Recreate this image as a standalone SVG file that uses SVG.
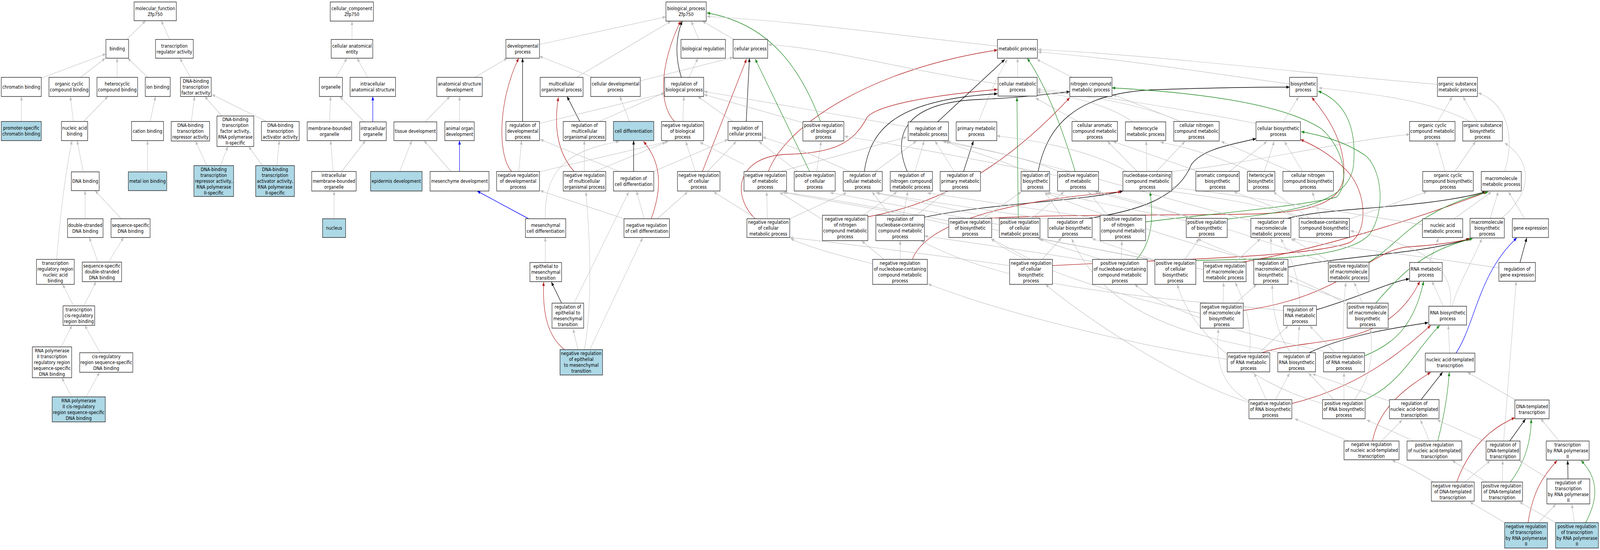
<svg xmlns="http://www.w3.org/2000/svg" width="5000" height="1408" viewBox="0 0 5000 1408" preserveAspectRatio="none">
<defs>
<style>
svg:root{width:100vw;height:100vh}
.n rect{fill:#fff;stroke:#222;stroke-width:1.4}
.n.hl rect{fill:#add8e6}
.n text{font-family:"DejaVu Sans",Verdana,sans-serif;font-size:13px;text-anchor:middle;fill:#000}
#edges path{fill:none}
.e{stroke:#c0c0c0;stroke-width:1.2;marker-end:url(#ag)}
.k{stroke:#000;stroke-width:1.4;marker-end:url(#ak)}
.r{stroke:#b22222;stroke-width:1.4;marker-end:url(#ar)}
.g{stroke:#228b22;stroke-width:1.4;marker-end:url(#agr)}
.b{stroke:#0000ff;stroke-width:1.4;marker-end:url(#ab)}
</style>
<marker id="ag" viewBox="0 0 10 8" refX="10" refY="4" markerWidth="11" markerHeight="8" markerUnits="userSpaceOnUse" orient="auto"><path d="M0,0L10,4L0,8z" fill="#c0c0c0"/></marker>
<marker id="ak" viewBox="0 0 10 8" refX="10" refY="4" markerWidth="11" markerHeight="8" markerUnits="userSpaceOnUse" orient="auto"><path d="M0,0L10,4L0,8z" fill="#000"/></marker>
<marker id="ar" viewBox="0 0 10 8" refX="10" refY="4" markerWidth="11" markerHeight="8" markerUnits="userSpaceOnUse" orient="auto"><path d="M0,0L10,4L0,8z" fill="#b22222"/></marker>
<marker id="agr" viewBox="0 0 10 8" refX="10" refY="4" markerWidth="11" markerHeight="8" markerUnits="userSpaceOnUse" orient="auto"><path d="M0,0L10,4L0,8z" fill="#228b22"/></marker>
<marker id="ab" viewBox="0 0 10 8" refX="10" refY="4" markerWidth="11" markerHeight="8" markerUnits="userSpaceOnUse" orient="auto"><path d="M0,0L10,4L0,8z" fill="#0000ff"/></marker>
</defs>
<rect x="0" y="0" width="5000" height="1408" fill="#fff"/>
<g id="edges">
<path class="e" d="M396,101L455,53"/>
<path class="e" d="M530,101L504,53"/>
<path class="e" d="M129,200L331,138"/>
<path class="e" d="M252,198L329,149"/>
<path class="e" d="M366,198L366,149"/>
<path class="e" d="M462,198L399,149"/>
<path class="e" d="M595,198L562,149"/>
<path class="e" d="M67,311L67,247"/>
<path class="e" d="M229,311L220,247"/>
<path class="e" d="M261,311L337,247"/>
<path class="e" d="M469,311L486,247"/>
<path class="e" d="M598,311L608,247"/>
<path class="e" d="M693,297L640,247"/>
<path class="e" d="M833,311L662,242"/>
<path class="e" d="M646,424L611,361"/>
<path class="e" d="M689,424L712,375"/>
<path class="e" d="M820,424L777,375"/>
<path class="e" d="M865,425L873,360"/>
<path class="e" d="M260,440L241,360"/>
<path class="e" d="M461,440L461,360"/>
<path class="e" d="M266,560L266,488"/>
<path class="e" d="M379,560L297,488"/>
<path class="e" d="M177,664Q195,480 225,360"/>
<path class="e" d="M306,671L279,608"/>
<path class="e" d="M339,671L386,608"/>
<path class="e" d="M230,783L196,728"/>
<path class="e" d="M262,783L300,721"/>
<path class="e" d="M191,888L225,833"/>
<path class="e" d="M313,903L265,833"/>
<path class="e" d="M224,1016L193,967"/>
<path class="e" d="M269,1016L311,953"/>
<path class="e" d="M1100,101L1100,54"/>
<path class="e" d="M1050,198L1084,149"/>
<path class="e" d="M1149,198L1116,149"/>
<path class="e" d="M1030,312L1033,247"/>
<path class="e" d="M1138,312L1062,247"/>
<path class="b" d="M1165,312L1165,247"/>
<path class="e" d="M1041,439L1033,360"/>
<path class="e" d="M1068,439L1142,360"/>
<path class="e" d="M1044,560L1044,489"/>
<path class="e" d="M1484,198L1585,149"/>
<path class="e" d="M1328,312L1406,247"/>
<path class="e" d="M1436,312L1436,247"/>
<path class="e" d="M1249,439L1287,360"/>
<path class="e" d="M1409,439L1325,360"/>
<path class="b" d="M1436,439L1436,360"/>
<path class="b" d="M1652,560L1491,489"/>
<path class="k" d="M1633,311L1633,149"/>
<path class="r" d="M1599,439C1555,400 1555,260 1621,149"/>
<path class="e" d="M1621,439L1630,360"/>
<path class="e" d="M1704,672L1704,608"/>
<path class="e" d="M1685,114L2081,43"/>
<path class="e" d="M1802,198L2097,54"/>
<path class="e" d="M1853,198L1686,144"/>
<path class="e" d="M2001,207L2291,147"/>
<path class="e" d="M2184,101L2160,54"/>
<path class="e" d="M2293,101L2195,54"/>
<path class="k" d="M2129,198Q2100,120 2132,54"/>
<path class="e" d="M2153,198L2181,149"/>
<path class="k" d="M1812,311L1772,247"/>
<path class="e" d="M1872,311L2077,237"/>
<path class="e" d="M1967,311L1937,247"/>
<path class="r" d="M2108,311C2050,260 2070,150 2127,54"/>
<path class="e" d="M2134,311L2137,247"/>
<path class="k" d="M2332,311L2342,149"/>
<path class="e" d="M2290,311L2181,247"/>
<path class="e" d="M1686,316L2077,239"/>
<path class="g" d="M2564,311C2500,170 2400,60 2209,33"/>
<path class="e" d="M2509,314L2200,242"/>
<path class="e" d="M2838,325L2200,234"/>
<path class="e" d="M1680,441L2089,362"/>
<path class="r" d="M1794,439C1730,380 1735,300 1745,249"/>
<path class="e" d="M1826,439L1826,360"/>
<path class="e" d="M1859,439L2081,364"/>
<path class="k" d="M1980,439L1980,360"/>
<path class="e" d="M1704,560C1700,430 1780,385 1935,362"/>
<path class="e" d="M2043,439L2275,357"/>
<path class="e" d="M1935,439L1688,357"/>
<path class="r" d="M2035,560C2075,470 2060,410 2011,362"/>
<path class="e" d="M2013,560L1989,489"/>
<path class="e" d="M2054,560L2149,491"/>
<path class="e" d="M1950,560L1688,488"/>
<path class="k" d="M1755,776L1723,722"/>
<path class="e" d="M1794,776L1965,491"/>
<path class="r" d="M1764,895C1710,860 1695,800 1699,722"/>
<path class="e" d="M1806,895L1791,842"/>
<path class="e" d="M1843,895L2008,609"/>
<path class="e" d="M1826,895C1848,800 1848,650 1831,491"/>
<path class="r" d="M2195,439L2333,151"/>
<path class="e" d="M2173,439L2143,362"/>
<path class="e" d="M2211,439L2301,362"/>
<path class="e" d="M2325,421L2187,364"/>
<path class="r" d="M2401,439C2450,330 2700,180 3117,128"/>
<path class="e" d="M2439,439L2833,351"/>
<path class="g" d="M2530,439L2360,151"/>
<path class="e" d="M2493,439L2371,362"/>
<path class="e" d="M2552,439L2566,362"/>
<path class="r" d="M2360,560C2285,500 2300,400 2460,395C2600,392 2665,370 2710,300C2740,270 2900,245 3117,229"/>
<path class="e" d="M2398,560L2396,491"/>
<path class="e" d="M2360,558L2230,491"/>
<path class="e" d="M2468,560L2646,493"/>
<path class="k" d="M2930,312L3140,152"/>
<path class="e" d="M3058,312Q3100,220 3148,152"/>
<path class="k" d="M2701,439C2720,330 2800,255 3117,240"/>
<path class="e" d="M2735,439L2864,361"/>
<path class="e" d="M2655,439Q2500,380 2383,351"/>
<path class="k" d="M2835,439C2790,350 2820,265 3050,255C3200,250 3280,240 3343,235"/>
<path class="e" d="M2859,439L2888,361"/>
<path class="k" d="M3011,439L3042,361"/>
<path class="e" d="M2982,439L2922,361"/>
<path class="e" d="M3309,439C3200,400 3050,380 2946,362"/>
<path class="e" d="M3305,450C3000,400 2800,370 2639,349"/>
<path class="r" d="M2712,555C2950,520 3150,420 3343,250"/>
<path class="e" d="M2697,551L2803,491"/>
<path class="e" d="M2570,562L2436,492"/>
<path class="k" d="M2889,556C3100,520 3380,515 3509,489"/>
<path class="e" d="M2823,551L2837,490"/>
<path class="e" d="M2781,551L2725,491"/>
<path class="e" d="M2864,551L2956,491"/>
<path class="r" d="M3085,559C3300,548 3700,552 3900,548C4100,545 4200,520 4200,440C4200,360 4150,300 4099,249"/>
<path class="e" d="M3072,559L3192,491"/>
<path class="e" d="M2965,575C2800,540 2550,510 2445,492"/>
<path class="g" d="M3182,559L3178,249"/>
<path class="e" d="M3224,559L3325,491"/>
<path class="e" d="M3123,561L2739,494"/>
<path class="e" d="M3123,575C2900,540 2700,510 2594,493"/>
<path class="r" d="M2851,664C2900,560 3200,510 3504,491"/>
<path class="e" d="M2813,664L2813,616"/>
<path class="e" d="M2763,664L2693,617"/>
<path class="e" d="M2727,675C2600,650 2520,630 2471,611"/>
<path class="e" d="M3835,920C3600,890 3200,820 2900,727"/>
<path class="e" d="M3180,198L3180,149"/>
<path class="e" d="M3351,198L3240,152"/>
<path class="e" d="M3369,311L3236,251"/>
<path class="e" d="M3540,312C3450,260 3300,240 3241,236"/>
<path class="e" d="M3692,312C3550,260 3350,240 3241,232"/>
<path class="e" d="M3680,308L3478,242"/>
<path class="e" d="M3925,316C3700,280 3400,240 3241,228"/>
<path class="k" d="M3244,439C3270,330 3350,240 3600,230C3800,224 3950,223 4030,223"/>
<path class="e" d="M3210,439C3100,400 3000,380 2955,362"/>
<path class="g" d="M3360,439C3320,330 3270,220 3210,149"/>
<path class="e" d="M3554,439L3461,362"/>
<path class="e" d="M3584,439L3582,361"/>
<path class="e" d="M3614,439L3703,362"/>
<path class="e" d="M3662,439C3900,420 4200,360 4405,344"/>
<path class="e" d="M3520,438C3400,380 3200,355 3115,348"/>
<path class="e" d="M3842,439L3959,362"/>
<path class="e" d="M3745,439L3478,362"/>
<path class="k" d="M3403,559C3550,540 3680,510 3723,421C3760,380 3850,370 3925,355"/>
<path class="e" d="M3321,559L3265,491"/>
<path class="e" d="M3277,561C3100,540 2850,510 2737,493"/>
<path class="g" d="M3581,568C3750,550 4050,530 4176,505C4220,470 4200,380 4130,330C4000,260 3700,235 3475,225"/>
<path class="e" d="M3461,551L3401,491"/>
<path class="e" d="M3438,560C3200,530 3000,505 2898,494"/>
<path class="g" d="M3835,561C4050,540 4220,520 4230,420C4240,320 4200,260 4119,233"/>
<path class="e" d="M3707,565C3500,530 3330,500 3273,493"/>
<path class="e" d="M3730,559L3421,491"/>
<path class="r" d="M3289,680C3600,665 4100,660 4220,620C4280,590 4270,480 4200,430C4150,390 4100,370 4064,357"/>
<path class="e" d="M3257,664L3317,609"/>
<path class="e" d="M3220,664L3097,611"/>
<path class="e" d="M3155,680C2900,650 2600,620 2468,608"/>
<path class="g" d="M3552,664C3600,620 3605,560 3594,491"/>
<path class="e" d="M3504,664L3506,617"/>
<path class="e" d="M3420,670C3200,640 2980,615 2889,604"/>
<path class="e" d="M3440,664C3350,640 3280,625 3250,611"/>
<path class="g" d="M3737,667C3900,662 4200,670 4280,600C4330,540 4320,440 4270,400C4200,360 4120,345 4066,337"/>
<path class="e" d="M3609,666L3413,611"/>
<path class="e" d="M3703,664L3747,611"/>
<path class="e" d="M3620,668C3450,640 3300,620 3244,611"/>
<path class="e" d="M4030,215C3800,190 3500,150 3244,133"/>
<path class="e" d="M4492,216C4100,190 3600,140 3244,127"/>
<path class="e" d="M4010,312L4058,248"/>
<path class="e" d="M4593,311C4480,260 4300,240 4121,225"/>
<path class="e" d="M3951,439L3982,362"/>
<path class="e" d="M3911,439C3800,400 3700,375 3626,364"/>
<path class="e" d="M4070,439L4014,362"/>
<path class="e" d="M4034,439L3816,362"/>
<path class="k" d="M4024,559C4150,530 4450,535 4643,491"/>
<path class="e" d="M3909,565C3600,500 3200,400 2960,362"/>
<path class="e" d="M4127,559L4101,491"/>
<path class="e" d="M4093,559L3979,491"/>
<path class="e" d="M4073,559L3856,491"/>
<path class="e" d="M4217,561L4459,491"/>
<path class="e" d="M4065,560C3950,520 3750,500 3650,489"/>
<path class="k" d="M4026,684C4200,655 4450,650 4592,611"/>
<path class="e" d="M3972,664L3972,609"/>
<path class="e" d="M3918,668C3700,620 3400,540 3269,493"/>
<path class="r" d="M3884,671C4100,640 4400,570 4647,491"/>
<path class="e" d="M3860,671L3939,611"/>
<path class="e" d="M3761,690C3300,620 2700,520 2450,492"/>
<path class="g" d="M4278,671C4380,620 4420,540 4651,491"/>
<path class="e" d="M4160,671L4034,611"/>
<path class="e" d="M4151,675C3900,600 3550,510 3430,491"/>
<path class="e" d="M4493,311L4538,248"/>
<path class="e" d="M4616,311L4572,248"/>
<path class="e" d="M4516,439L4489,362"/>
<path class="e" d="M4546,439L4611,362"/>
<path class="e" d="M4702,439C4740,340 4700,260 4619,238"/>
<path class="e" d="M4544,560L4661,491"/>
<path class="e" d="M4657,559L4682,491"/>
<path class="e" d="M4764,559L4714,491"/>
<path class="e" d="M4692,559C4780,500 4800,420 4702,366"/>
<path class="e" d="M4445,575C4200,545 3900,500 3662,480"/>
<path class="e" d="M4467,672L4495,610"/>
<path class="k" d="M4750,672L4771,609"/>
<path class="e" d="M4684,686C4400,650 4150,630 4038,611"/>
<path class="e" d="M4510,784L4475,720"/>
<path class="e" d="M4538,784C4550,740 4600,670 4631,611"/>
<path class="e" d="M4532,784C4545,700 4480,630 4220,591"/>
<path class="e" d="M4530,904L4526,833"/>
<path class="b" d="M4550,904C4610,830 4620,700 4740,609"/>
<path class="e" d="M4736,1024L4586,953"/>
<path class="e" d="M4872,1129L4815,1072"/>
<path class="k" d="M4114,793C4250,760 4350,720 4404,714"/>
<path class="r" d="M3943,903C4100,860 4330,900 4437,720"/>
<path class="g" d="M4264,911C4360,880 4420,830 4449,720"/>
<path class="k" d="M4091,903C4200,860 4350,840 4463,826"/>
<path class="r" d="M4037,1033C4250,990 4380,900 4471,833"/>
<path class="g" d="M4266,1023C4380,980 4420,900 4499,833"/>
<path class="k" d="M4441,1023L4508,953"/>
<path class="e" d="M4342,1027L4101,957"/>
<path class="r" d="M4289,1129C4310,1040 4400,990 4471,953"/>
<path class="e" d="M4317,1129L4382,1075"/>
<path class="e" d="M4214,1129L4046,1072"/>
<path class="g" d="M4493,1129C4515,1060 4525,1000 4529,953"/>
<path class="e" d="M4467,1129L4439,1075"/>
<path class="e" d="M4418,1129L4271,1075"/>
<path class="k" d="M4718,1129L4767,1073"/>
<path class="e" d="M4644,1131L4491,1075"/>
<path class="e" d="M4699,1129L4738,720"/>
<path class="r" d="M4552,1234C4590,1150 4650,1100 4734,1069"/>
<path class="e" d="M4578,1234L4657,1179"/>
<path class="e" d="M4481,1234C4430,1210 4390,1190 4350,1179"/>
<path class="g" d="M4720,1234C4770,1180 4785,1120 4785,1073"/>
<path class="e" d="M4695,1234L4696,1179"/>
<path class="e" d="M4645,1234L4538,1179"/>
<path class="k" d="M4900,1226L4899,1179"/>
<path class="e" d="M4839,1226L4748,1179"/>
<path class="r" d="M4775,1338C4790,1260 4820,1220 4866,1179"/>
<path class="e" d="M4807,1338L4862,1291"/>
<path class="e" d="M4702,1338L4593,1285"/>
<path class="g" d="M4955,1338C5000,1270 4990,1220 4941,1179"/>
<path class="e" d="M4920,1338L4912,1291"/>
<path class="e" d="M4862,1338L4748,1285"/>
<path class="e" d="M4062,783C4060,720 4040,660 4002,611"/>
<path class="e" d="M4011,795C3600,760 3150,740 2878,616"/>
<path class="e" d="M3822,776L3824,723"/>
<path class="e" d="M3862,776L3927,728"/>
<path class="r" d="M3885,795C4200,760 4280,640 4400,632C4480,628 4550,620 4597,611"/>
<path class="e" d="M3751,802C3500,760 3200,680 3097,611"/>
<path class="e" d="M4257,776L4232,723"/>
<path class="e" d="M4220,775L4028,718"/>
<path class="g" d="M4299,776C4380,700 4450,640 4602,611"/>
<path class="e" d="M4210,780C4050,700 3800,640 3743,611"/>
<path class="e" d="M3935,903L4026,834"/>
<path class="e" d="M3905,903C3912,850 3900,790 3860,723"/>
<path class="e" d="M4172,903L4093,834"/>
<path class="e" d="M4198,903C4196,830 4200,760 4206,723"/>
<path class="e" d="M4160,903C3900,860 3650,800 3546,728"/>
<path class="e" d="M4056,903L4060,834"/>
<path class="e" d="M4034,903C3985,850 3975,780 3976,729"/>
<path class="e" d="M4014,904C3700,860 3450,800 3349,611"/>
<path class="e" d="M3957,1023L3919,955"/>
<path class="e" d="M3986,1023L4030,955"/>
<path class="e" d="M3903,1027C3800,980 3800,900 3808,842"/>
<path class="e" d="M3903,1030C3700,980 3400,820 3267,728"/>
<path class="e" d="M4200,1023L4200,954"/>
<path class="e" d="M4168,1023L4089,955"/>
<path class="e" d="M4232,1023C4290,960 4290,900 4283,842"/>
<path class="e" d="M4133,1033C3900,980 3720,850 3679,728"/>
<path class="e" d="M3119,215C2800,175 2600,125 2401,114"/>
<path class="e" d="M3117,118C2800,90 2500,55 2209,42"/>
</g>
<g id="n_mf" class="n"><rect x="419" y="5" width="132" height="48"/><text><tspan x="485" y="26">molecular_function</tspan><tspan x="485" y="41">Zfp750</tspan></text></g>
<g id="n_bind" class="n"><rect x="331" y="101" width="71" height="48"/><text><tspan x="366.5" y="129.5">binding</tspan></text></g>
<g id="n_tra" class="n"><rect x="486" y="101" width="118" height="48"/><text><tspan x="545" y="122">transcription</tspan><tspan x="545" y="137">regulator activity</tspan></text></g>
<g id="n_chrom" class="n"><rect x="4" y="198" width="125" height="49"/><text><tspan x="66.5" y="227">chromatin binding</tspan></text></g>
<g id="n_occb" class="n"><rect x="153" y="198" width="126" height="49"/><text><tspan x="216" y="219.5">organic cyclic</tspan><tspan x="216" y="234.5">compound binding</tspan></text></g>
<g id="n_hcb" class="n"><rect x="303" y="198" width="127" height="49"/><text><tspan x="366.5" y="219.5">heterocyclic</tspan><tspan x="366.5" y="234.5">compound binding</tspan></text></g>
<g id="n_ionb" class="n"><rect x="454" y="198" width="78" height="49"/><text><tspan x="493" y="227">ion binding</tspan></text></g>
<g id="n_dbtfa" class="n"><rect x="564" y="198" width="96" height="49"/><text><tspan x="612" y="212">DNA-binding</tspan><tspan x="612" y="227">transcription</tspan><tspan x="612" y="242">factor activity</tspan></text></g>
<g id="n_pscb" class="n hl"><rect x="4" y="311" width="125" height="49"/><text><tspan x="66.5" y="332.5">promoter-specific</tspan><tspan x="66.5" y="347.5">chromatin binding</tspan></text></g>
<g id="n_nab" class="n"><rect x="192" y="311" width="82" height="49"/><text><tspan x="233" y="332.5">nucleic acid</tspan><tspan x="233" y="347.5">binding</tspan></text></g>
<g id="n_catb" class="n"><rect x="411" y="311" width="100" height="49"/><text><tspan x="461" y="340">cation binding</tspan></text></g>
<g id="n_rep" class="n"><rect x="535" y="311" width="120" height="50"/><text><tspan x="595" y="325.5">DNA-binding</tspan><tspan x="595" y="340.5">transcription</tspan><tspan x="595" y="355.5">repressor activity</tspan></text></g>
<g id="n_tf2" class="n"><rect x="678" y="297" width="115" height="78"/><text><tspan x="735.5" y="310.5">DNA-binding</tspan><tspan x="735.5" y="325.5">transcription</tspan><tspan x="735.5" y="340.5">factor activity,</tspan><tspan x="735.5" y="355.5">RNA polymerase</tspan><tspan x="735.5" y="370.5">II-specific</tspan></text></g>
<g id="n_act" class="n"><rect x="817" y="311" width="118" height="49"/><text><tspan x="876" y="325">DNA-binding</tspan><tspan x="876" y="340">transcription</tspan><tspan x="876" y="355">activator activity</tspan></text></g>
<g id="n_rep2" class="n hl"><rect x="606" y="424" width="124" height="79"/><text><tspan x="668" y="438">DNA-binding</tspan><tspan x="668" y="453">transcription</tspan><tspan x="668" y="468">repressor activity,</tspan><tspan x="668" y="483">RNA polymerase</tspan><tspan x="668" y="498">II-specific</tspan></text></g>
<g id="n_act2" class="n hl"><rect x="799" y="424" width="121" height="79"/><text><tspan x="859.5" y="438">DNA-binding</tspan><tspan x="859.5" y="453">transcription</tspan><tspan x="859.5" y="468">activator activity,</tspan><tspan x="859.5" y="483">RNA polymerase</tspan><tspan x="859.5" y="498">II-specific</tspan></text></g>
<g id="n_dnab" class="n"><rect x="223" y="440" width="87" height="48"/><text><tspan x="266.5" y="468.5">DNA binding</tspan></text></g>
<g id="n_metb" class="n hl"><rect x="401" y="440" width="120" height="48"/><text><tspan x="461" y="468.5">metal ion binding</tspan></text></g>
<g id="n_dsdna" class="n"><rect x="211" y="560" width="111" height="48"/><text><tspan x="266.5" y="581">double-stranded</tspan><tspan x="266.5" y="596">DNA binding</tspan></text></g>
<g id="n_ssdna" class="n"><rect x="347" y="560" width="122" height="48"/><text><tspan x="408" y="581">sequence-specific</tspan><tspan x="408" y="596">DNA binding</tspan></text></g>
<g id="n_trrnab" class="n"><rect x="114" y="664" width="118" height="64"/><text><tspan x="173" y="678">transcription</tspan><tspan x="173" y="693">regulatory region</tspan><tspan x="173" y="708">nucleic acid</tspan><tspan x="173" y="723">binding</tspan></text></g>
<g id="n_ssds" class="n"><rect x="257" y="671" width="123" height="50"/><text><tspan x="318.5" y="685.5">sequence-specific</tspan><tspan x="318.5" y="700.5">double-stranded</tspan><tspan x="318.5" y="715.5">DNA binding</tspan></text></g>
<g id="n_tcrrb" class="n"><rect x="197" y="783" width="99" height="50"/><text><tspan x="246.5" y="797.5">transcription</tspan><tspan x="246.5" y="812.5">cis-regulatory</tspan><tspan x="246.5" y="827.5">region binding</tspan></text></g>
<g id="n_rp2trr" class="n"><rect x="101" y="888" width="123" height="79"/><text><tspan x="162.5" y="902">RNA polymerase</tspan><tspan x="162.5" y="917">II transcription</tspan><tspan x="162.5" y="932">regulatory region</tspan><tspan x="162.5" y="947">sequence-specific</tspan><tspan x="162.5" y="962">DNA binding</tspan></text></g>
<g id="n_cisr" class="n"><rect x="249" y="903" width="166" height="50"/><text><tspan x="332" y="917.5">cis-regulatory</tspan><tspan x="332" y="932.5">region sequence-specific</tspan><tspan x="332" y="947.5">DNA binding</tspan></text></g>
<g id="n_rp2cis" class="n hl"><rect x="163" y="1016" width="166" height="64"/><text><tspan x="246" y="1030">RNA polymerase</tspan><tspan x="246" y="1045">II cis-regulatory</tspan><tspan x="246" y="1060">region sequence-specific</tspan><tspan x="246" y="1075">DNA binding</tspan></text></g>
<g id="n_cc" class="n"><rect x="1032" y="5" width="135" height="49"/><text><tspan x="1099.5" y="26.5">cellular_component</tspan><tspan x="1099.5" y="41.5">Zfp750</tspan></text></g>
<g id="n_cae" class="n"><rect x="1035" y="101" width="130" height="48"/><text><tspan x="1100" y="122">cellular anatomical</tspan><tspan x="1100" y="137">entity</tspan></text></g>
<g id="n_org" class="n"><rect x="998" y="198" width="72" height="49"/><text><tspan x="1034" y="227">organelle</tspan></text></g>
<g id="n_ias" class="n"><rect x="1094" y="198" width="142" height="49"/><text><tspan x="1165" y="219.5">intracellular</tspan><tspan x="1165" y="234.5">anatomical structure</tspan></text></g>
<g id="n_mbo" class="n"><rect x="960" y="312" width="139" height="48"/><text><tspan x="1029.5" y="333">membrane-bounded</tspan><tspan x="1029.5" y="348">organelle</tspan></text></g>
<g id="n_io" class="n"><rect x="1124" y="312" width="83" height="48"/><text><tspan x="1165.5" y="333">intracellular</tspan><tspan x="1165.5" y="348">organelle</tspan></text></g>
<g id="n_imbo" class="n"><rect x="974" y="439" width="139" height="50"/><text><tspan x="1043.5" y="453.5">intracellular</tspan><tspan x="1043.5" y="468.5">membrane-bounded</tspan><tspan x="1043.5" y="483.5">organelle</tspan></text></g>
<g id="n_nuc" class="n hl"><rect x="1008" y="560" width="72" height="48"/><text><tspan x="1044" y="588.5">nucleus</tspan></text></g>
<g id="n_asd" class="n"><rect x="1365" y="198" width="142" height="49"/><text><tspan x="1436" y="219.5">anatomical structure</tspan><tspan x="1436" y="234.5">development</tspan></text></g>
<g id="n_dp" class="n"><rect x="1581" y="101" width="105" height="48"/><text><tspan x="1633.5" y="122">developmental</tspan><tspan x="1633.5" y="137">process</tspan></text></g>
<g id="n_td" class="n"><rect x="1231" y="312" width="134" height="48"/><text><tspan x="1298" y="340.5">tissue development</tspan></text></g>
<g id="n_aod" class="n"><rect x="1390" y="312" width="92" height="48"/><text><tspan x="1436" y="333">animal organ</tspan><tspan x="1436" y="348">development</tspan></text></g>
<g id="n_rdp" class="n"><rect x="1581" y="311" width="105" height="49"/><text><tspan x="1633.5" y="325">regulation of</tspan><tspan x="1633.5" y="340">developmental</tspan><tspan x="1633.5" y="355">process</tspan></text></g>
<g id="n_ed" class="n hl"><rect x="1158" y="439" width="161" height="50"/><text><tspan x="1238.5" y="468.5">epidermis development</tspan></text></g>
<g id="n_md" class="n"><rect x="1344" y="439" width="184" height="50"/><text><tspan x="1436" y="468.5">mesenchyme development</tspan></text></g>
<g id="n_nrdp" class="n"><rect x="1552" y="439" width="134" height="50"/><text><tspan x="1619" y="453.5">negative regulation</tspan><tspan x="1619" y="468.5">of developmental</tspan><tspan x="1619" y="483.5">process</tspan></text></g>
<g id="n_mcd" class="n"><rect x="1642" y="560" width="126" height="48"/><text><tspan x="1705" y="581">mesenchymal</tspan><tspan x="1705" y="596">cell differentiation</tspan></text></g>
<g id="n_emt" class="n"><rect x="1656" y="672" width="99" height="49"/><text><tspan x="1705.5" y="686">epithelial to</tspan><tspan x="1705.5" y="701">mesenchymal</tspan><tspan x="1705.5" y="716">transition</tspan></text></g>
<g id="n_bp" class="n"><rect x="2081" y="5" width="126" height="49"/><text><tspan x="2144" y="26.5">biological_process</tspan><tspan x="2144" y="41.5">Zfp750</tspan></text></g>
<g id="n_br" class="n"><rect x="2128" y="101" width="139" height="48"/><text><tspan x="2197.5" y="129.5">biological regulation</tspan></text></g>
<g id="n_cp" class="n"><rect x="2291" y="101" width="108" height="48"/><text><tspan x="2345" y="129.5">cellular process</tspan></text></g>
<g id="n_mop" class="n"><rect x="1688" y="198" width="134" height="49"/><text><tspan x="1755" y="219.5">multicellular</tspan><tspan x="1755" y="234.5">organismal process</tspan></text></g>
<g id="n_cdp" class="n"><rect x="1846" y="198" width="155" height="49"/><text><tspan x="1923.5" y="219.5">cellular developmental</tspan><tspan x="1923.5" y="234.5">process</tspan></text></g>
<g id="n_rbp" class="n"><rect x="2077" y="198" width="122" height="49"/><text><tspan x="2138" y="219.5">regulation of</tspan><tspan x="2138" y="234.5">biological process</tspan></text></g>
<g id="n_rmop" class="n"><rect x="1760" y="311" width="133" height="49"/><text><tspan x="1826.5" y="325">regulation of</tspan><tspan x="1826.5" y="340">multicellular</tspan><tspan x="1826.5" y="355">organismal process</tspan></text></g>
<g id="n_cd" class="n hl"><rect x="1917" y="311" width="126" height="49"/><text><tspan x="1980" y="340">cell differentiation</tspan></text></g>
<g id="n_nrbp" class="n"><rect x="2067" y="311" width="132" height="49"/><text><tspan x="2133" y="325">negative regulation</tspan><tspan x="2133" y="340">of biological</tspan><tspan x="2133" y="355">process</tspan></text></g>
<g id="n_rcp" class="n"><rect x="2275" y="311" width="108" height="49"/><text><tspan x="2329" y="332.5">regulation of</tspan><tspan x="2329" y="347.5">cellular process</tspan></text></g>
<g id="n_prbp" class="n"><rect x="2509" y="311" width="128" height="50"/><text><tspan x="2573" y="325.5">positive regulation</tspan><tspan x="2573" y="340.5">of biological</tspan><tspan x="2573" y="355.5">process</tspan></text></g>
<g id="n_nrmop" class="n"><rect x="1760" y="439" width="133" height="50"/><text><tspan x="1826.5" y="453.5">negative regulation</tspan><tspan x="1826.5" y="468.5">of multicellular</tspan><tspan x="1826.5" y="483.5">organismal process</tspan></text></g>
<g id="n_rcd" class="n"><rect x="1917" y="439" width="126" height="50"/><text><tspan x="1980" y="461">regulation of</tspan><tspan x="1980" y="476">cell differentiation</tspan></text></g>
<g id="n_nrcp" class="n"><rect x="2117" y="439" width="133" height="50"/><text><tspan x="2183.5" y="453.5">negative regulation</tspan><tspan x="2183.5" y="468.5">of cellular</tspan><tspan x="2183.5" y="483.5">process</tspan></text></g>
<g id="n_nrmp" class="n"><rect x="2325" y="439" width="133" height="50"/><text><tspan x="2391.5" y="453.5">negative regulation</tspan><tspan x="2391.5" y="468.5">of metabolic</tspan><tspan x="2391.5" y="483.5">process</tspan></text></g>
<g id="n_prcp" class="n"><rect x="2482" y="439" width="128" height="50"/><text><tspan x="2546" y="453.5">positive regulation</tspan><tspan x="2546" y="468.5">of cellular</tspan><tspan x="2546" y="483.5">process</tspan></text></g>
<g id="n_nrcd" class="n"><rect x="1950" y="560" width="142" height="48"/><text><tspan x="2021" y="581">negative regulation</tspan><tspan x="2021" y="596">of cell differentiation</tspan></text></g>
<g id="n_nrcmp" class="n"><rect x="2334" y="560" width="134" height="48"/><text><tspan x="2401" y="573.5">negative regulation</tspan><tspan x="2401" y="588.5">of cellular</tspan><tspan x="2401" y="603.5">metabolic process</tspan></text></g>
<g id="n_remt" class="n"><rect x="1725" y="776" width="99" height="64"/><text><tspan x="1774.5" y="790">regulation of</tspan><tspan x="1774.5" y="805">epithelial to</tspan><tspan x="1774.5" y="820">mesenchymal</tspan><tspan x="1774.5" y="835">transition</tspan></text></g>
<g id="n_nremt" class="n hl"><rect x="1750" y="895" width="133" height="65"/><text><tspan x="1816.5" y="909.5">negative regulation</tspan><tspan x="1816.5" y="924.5">of epithelial</tspan><tspan x="1816.5" y="939.5">to mesenchymal</tspan><tspan x="1816.5" y="954.5">transition</tspan></text></g>
<g id="n_mp" class="n"><rect x="3117" y="101" width="125" height="48"/><text><tspan x="3179.5" y="129.5">metabolic process</tspan></text></g>
<g id="n_cmp" class="n"><rect x="3119" y="198" width="122" height="48"/><text><tspan x="3180" y="219">cellular metabolic</tspan><tspan x="3180" y="234">process</tspan></text></g>
<g id="n_ncmp" class="n"><rect x="3343" y="198" width="132" height="49"/><text><tspan x="3409" y="219.5">nitrogen compound</tspan><tspan x="3409" y="234.5">metabolic process</tspan></text></g>
<g id="n_bsp" class="n"><rect x="4030" y="198" width="86" height="49"/><text><tspan x="4073" y="219.5">biosynthetic</tspan><tspan x="4073" y="234.5">process</tspan></text></g>
<g id="n_osmp" class="n"><rect x="4492" y="198" width="125" height="49"/><text><tspan x="4554.5" y="219.5">organic substance</tspan><tspan x="4554.5" y="234.5">metabolic process</tspan></text></g>
<g id="n_rmp" class="n"><rect x="2838" y="312" width="126" height="48"/><text><tspan x="2901" y="333">regulation of</tspan><tspan x="2901" y="348">metabolic process</tspan></text></g>
<g id="n_pmp" class="n"><rect x="2988" y="312" width="127" height="48"/><text><tspan x="3051.5" y="333">primary metabolic</tspan><tspan x="3051.5" y="348">process</tspan></text></g>
<g id="n_cacmp" class="n"><rect x="3350" y="311" width="142" height="50"/><text><tspan x="3421" y="325.5">cellular aromatic</tspan><tspan x="3421" y="340.5">compound metabolic</tspan><tspan x="3421" y="355.5">process</tspan></text></g>
<g id="n_hmp" class="n"><rect x="3517" y="312" width="126" height="48"/><text><tspan x="3580" y="333">heterocycle</tspan><tspan x="3580" y="348">metabolic process</tspan></text></g>
<g id="n_cncmp" class="n"><rect x="3668" y="311" width="142" height="50"/><text><tspan x="3739" y="325.5">cellular nitrogen</tspan><tspan x="3739" y="340.5">compound metabolic</tspan><tspan x="3739" y="355.5">process</tspan></text></g>
<g id="n_cbp" class="n"><rect x="3925" y="312" width="139" height="48"/><text><tspan x="3994.5" y="333">cellular biosynthetic</tspan><tspan x="3994.5" y="348">process</tspan></text></g>
<g id="n_occmp" class="n"><rect x="4405" y="311" width="142" height="50"/><text><tspan x="4476" y="325.5">organic cyclic</tspan><tspan x="4476" y="340.5">compound metabolic</tspan><tspan x="4476" y="355.5">process</tspan></text></g>
<g id="n_osbp" class="n"><rect x="4571" y="311" width="124" height="50"/><text><tspan x="4633" y="325.5">organic substance</tspan><tspan x="4633" y="340.5">biosynthetic</tspan><tspan x="4633" y="355.5">process</tspan></text></g>
<g id="n_rcmp" class="n"><rect x="2635" y="439" width="122" height="50"/><text><tspan x="2696" y="453.5">regulation of</tspan><tspan x="2696" y="468.5">cellular metabolic</tspan><tspan x="2696" y="483.5">process</tspan></text></g>
<g id="n_rncmp" class="n"><rect x="2782" y="439" width="132" height="50"/><text><tspan x="2848" y="453.5">regulation of</tspan><tspan x="2848" y="468.5">nitrogen compound</tspan><tspan x="2848" y="483.5">metabolic process</tspan></text></g>
<g id="n_rpmp" class="n"><rect x="2938" y="439" width="126" height="50"/><text><tspan x="3001" y="453.5">regulation of</tspan><tspan x="3001" y="468.5">primary metabolic</tspan><tspan x="3001" y="483.5">process</tspan></text></g>
<g id="n_rbsp" class="n"><rect x="3191" y="439" width="89" height="50"/><text><tspan x="3235.5" y="453.5">regulation of</tspan><tspan x="3235.5" y="468.5">biosynthetic</tspan><tspan x="3235.5" y="483.5">process</tspan></text></g>
<g id="n_prmp" class="n"><rect x="3305" y="439" width="128" height="50"/><text><tspan x="3369" y="453.5">positive regulation</tspan><tspan x="3369" y="468.5">of metabolic</tspan><tspan x="3369" y="483.5">process</tspan></text></g>
<g id="n_nbcmp" class="n"><rect x="3509" y="439" width="153" height="50"/><text><tspan x="3585.5" y="453.5">nucleobase-containing</tspan><tspan x="3585.5" y="468.5">compound metabolic</tspan><tspan x="3585.5" y="483.5">process</tspan></text></g>
<g id="n_acbp" class="n"><rect x="3737" y="439" width="136" height="50"/><text><tspan x="3805" y="453.5">aromatic compound</tspan><tspan x="3805" y="468.5">biosynthetic</tspan><tspan x="3805" y="483.5">process</tspan></text></g>
<g id="n_hbp" class="n"><rect x="3898" y="439" width="86" height="50"/><text><tspan x="3941" y="453.5">heterocycle</tspan><tspan x="3941" y="468.5">biosynthetic</tspan><tspan x="3941" y="483.5">process</tspan></text></g>
<g id="n_cncbp" class="n"><rect x="4009" y="439" width="158" height="50"/><text><tspan x="4088" y="453.5">cellular nitrogen</tspan><tspan x="4088" y="468.5">compound biosynthetic</tspan><tspan x="4088" y="483.5">process</tspan></text></g>
<g id="n_occbp" class="n"><rect x="4446" y="439" width="158" height="50"/><text><tspan x="4525" y="453.5">organic cyclic</tspan><tspan x="4525" y="468.5">compound biosynthetic</tspan><tspan x="4525" y="483.5">process</tspan></text></g>
<g id="n_mmp" class="n"><rect x="4629" y="439" width="125" height="50"/><text><tspan x="4691.5" y="461">macromolecule</tspan><tspan x="4691.5" y="476">metabolic process</tspan></text></g>
<g id="n_nrncmp" class="n"><rect x="2570" y="551" width="142" height="65"/><text><tspan x="2641" y="565.5">negative regulation</tspan><tspan x="2641" y="580.5">of nitrogen</tspan><tspan x="2641" y="595.5">compound metabolic</tspan><tspan x="2641" y="610.5">process</tspan></text></g>
<g id="n_rnbcmp" class="n"><rect x="2737" y="551" width="152" height="65"/><text><tspan x="2813" y="565.5">regulation of</tspan><tspan x="2813" y="580.5">nucleobase-containing</tspan><tspan x="2813" y="595.5">compound metabolic</tspan><tspan x="2813" y="610.5">process</tspan></text></g>
<g id="n_nrbsp" class="n"><rect x="2965" y="559" width="134" height="49"/><text><tspan x="3032" y="573">negative regulation</tspan><tspan x="3032" y="588">of biosynthetic</tspan><tspan x="3032" y="603">process</tspan></text></g>
<g id="n_prcmp" class="n"><rect x="3123" y="559" width="127" height="49"/><text><tspan x="3186.5" y="573">positive regulation</tspan><tspan x="3186.5" y="588">of cellular</tspan><tspan x="3186.5" y="603">metabolic process</tspan></text></g>
<g id="n_rcbp" class="n"><rect x="3275" y="559" width="138" height="49"/><text><tspan x="3344" y="573">regulation of</tspan><tspan x="3344" y="588">cellular biosynthetic</tspan><tspan x="3344" y="603">process</tspan></text></g>
<g id="n_prncmp" class="n"><rect x="3438" y="551" width="142" height="65"/><text><tspan x="3509" y="565.5">positive regulation</tspan><tspan x="3509" y="580.5">of nitrogen</tspan><tspan x="3509" y="595.5">compound metabolic</tspan><tspan x="3509" y="610.5">process</tspan></text></g>
<g id="n_prbsp" class="n"><rect x="3707" y="559" width="128" height="49"/><text><tspan x="3771" y="573">positive regulation</tspan><tspan x="3771" y="588">of biosynthetic</tspan><tspan x="3771" y="603">process</tspan></text></g>
<g id="n_rmmp" class="n"><rect x="3909" y="559" width="125" height="49"/><text><tspan x="3971.5" y="573">regulation of</tspan><tspan x="3971.5" y="588">macromolecule</tspan><tspan x="3971.5" y="603">metabolic process</tspan></text></g>
<g id="n_nbcbp" class="n"><rect x="4060" y="559" width="157" height="49"/><text><tspan x="4138.5" y="573">nucleobase-containing</tspan><tspan x="4138.5" y="588">compound biosynthetic</tspan><tspan x="4138.5" y="603">process</tspan></text></g>
<g id="n_namp" class="n"><rect x="4445" y="560" width="126" height="48"/><text><tspan x="4508" y="581">nucleic acid</tspan><tspan x="4508" y="596">metabolic process</tspan></text></g>
<g id="n_mbp" class="n"><rect x="4594" y="559" width="107" height="50"/><text><tspan x="4647.5" y="573.5">macromolecule</tspan><tspan x="4647.5" y="588.5">biosynthetic</tspan><tspan x="4647.5" y="603.5">process</tspan></text></g>
<g id="n_ge" class="n"><rect x="4726" y="560" width="113" height="48"/><text><tspan x="4782.5" y="588.5">gene expression</tspan></text></g>
<g id="n_nrnbcmp" class="n"><rect x="2727" y="664" width="171" height="64"/><text><tspan x="2812.5" y="678">negative regulation</tspan><tspan x="2812.5" y="693">of nucleobase-containing</tspan><tspan x="2812.5" y="708">compound metabolic</tspan><tspan x="2812.5" y="723">process</tspan></text></g>
<g id="n_nrcbp" class="n"><rect x="3155" y="664" width="134" height="64"/><text><tspan x="3222" y="678">negative regulation</tspan><tspan x="3222" y="693">of cellular</tspan><tspan x="3222" y="708">biosynthetic</tspan><tspan x="3222" y="723">process</tspan></text></g>
<g id="n_prnbcmp" class="n"><rect x="3414" y="664" width="171" height="64"/><text><tspan x="3499.5" y="678">positive regulation</tspan><tspan x="3499.5" y="693">of nucleobase-containing</tspan><tspan x="3499.5" y="708">compound metabolic</tspan><tspan x="3499.5" y="723">process</tspan></text></g>
<g id="n_prcbp" class="n"><rect x="3609" y="664" width="128" height="64"/><text><tspan x="3673" y="678">positive regulation</tspan><tspan x="3673" y="693">of cellular</tspan><tspan x="3673" y="708">biosynthetic</tspan><tspan x="3673" y="723">process</tspan></text></g>
<g id="n_nrmmp" class="n"><rect x="3761" y="671" width="133" height="50"/><text><tspan x="3827.5" y="685.5">negative regulation</tspan><tspan x="3827.5" y="700.5">of macromolecule</tspan><tspan x="3827.5" y="715.5">metabolic process</tspan></text></g>
<g id="n_rmbp" class="n"><rect x="3918" y="664" width="107" height="64"/><text><tspan x="3971.5" y="678">regulation of</tspan><tspan x="3971.5" y="693">macromolecule</tspan><tspan x="3971.5" y="708">biosynthetic</tspan><tspan x="3971.5" y="723">process</tspan></text></g>
<g id="n_prmmp" class="n"><rect x="4151" y="671" width="127" height="50"/><text><tspan x="4214.5" y="685.5">positive regulation</tspan><tspan x="4214.5" y="700.5">of macromolecule</tspan><tspan x="4214.5" y="715.5">metabolic process</tspan></text></g>
<g id="n_rnamp" class="n"><rect x="4405" y="672" width="102" height="48"/><text><tspan x="4456" y="693">RNA metabolic</tspan><tspan x="4456" y="708">process</tspan></text></g>
<g id="n_rge" class="n"><rect x="4684" y="672" width="114" height="48"/><text><tspan x="4741" y="693">regulation of</tspan><tspan x="4741" y="708">gene expression</tspan></text></g>
<g id="n_nrmbp" class="n"><rect x="3751" y="776" width="134" height="64"/><text><tspan x="3818" y="790">negative regulation</tspan><tspan x="3818" y="805">of macromolecule</tspan><tspan x="3818" y="820">biosynthetic</tspan><tspan x="3818" y="835">process</tspan></text></g>
<g id="n_rrnamp" class="n"><rect x="4011" y="783" width="103" height="50"/><text><tspan x="4062.5" y="797.5">regulation of</tspan><tspan x="4062.5" y="812.5">RNA metabolic</tspan><tspan x="4062.5" y="827.5">process</tspan></text></g>
<g id="n_prmbp" class="n"><rect x="4210" y="776" width="128" height="64"/><text><tspan x="4274" y="790">positive regulation</tspan><tspan x="4274" y="805">of macromolecule</tspan><tspan x="4274" y="820">biosynthetic</tspan><tspan x="4274" y="835">process</tspan></text></g>
<g id="n_rnabp" class="n"><rect x="4465" y="784" width="118" height="48"/><text><tspan x="4524" y="805">RNA biosynthetic</tspan><tspan x="4524" y="820">process</tspan></text></g>
<g id="n_nrrnamp" class="n"><rect x="3835" y="903" width="133" height="49"/><text><tspan x="3901.5" y="917">negative regulation</tspan><tspan x="3901.5" y="932">of RNA metabolic</tspan><tspan x="3901.5" y="947">process</tspan></text></g>
<g id="n_rrnabp" class="n"><rect x="3993" y="903" width="118" height="49"/><text><tspan x="4052" y="917">regulation of</tspan><tspan x="4052" y="932">RNA biosynthetic</tspan><tspan x="4052" y="947">process</tspan></text></g>
<g id="n_prrnamp" class="n"><rect x="4136" y="903" width="128" height="49"/><text><tspan x="4200" y="917">positive regulation</tspan><tspan x="4200" y="932">of RNA metabolic</tspan><tspan x="4200" y="947">process</tspan></text></g>
<g id="n_natt" class="n"><rect x="4454" y="904" width="155" height="48"/><text><tspan x="4531.5" y="925">nucleic acid-templated</tspan><tspan x="4531.5" y="940">transcription</tspan></text></g>
<g id="n_nrrnabp" class="n"><rect x="3903" y="1023" width="134" height="49"/><text><tspan x="3970" y="1037">negative regulation</tspan><tspan x="3970" y="1052">of RNA biosynthetic</tspan><tspan x="3970" y="1067">process</tspan></text></g>
<g id="n_prrnabp" class="n"><rect x="4133" y="1023" width="133" height="49"/><text><tspan x="4199.5" y="1037">positive regulation</tspan><tspan x="4199.5" y="1052">of RNA biosynthetic</tspan><tspan x="4199.5" y="1067">process</tspan></text></g>
<g id="n_rnatt" class="n"><rect x="4342" y="1023" width="155" height="49"/><text><tspan x="4419.5" y="1037">regulation of</tspan><tspan x="4419.5" y="1052">nucleic acid-templated</tspan><tspan x="4419.5" y="1067">transcription</tspan></text></g>
<g id="n_dtt" class="n"><rect x="4734" y="1024" width="107" height="48"/><text><tspan x="4787.5" y="1045">DNA-templated</tspan><tspan x="4787.5" y="1060">transcription</tspan></text></g>
<g id="n_nrnatt" class="n"><rect x="4200" y="1129" width="172" height="48"/><text><tspan x="4286" y="1142.5">negative regulation</tspan><tspan x="4286" y="1157.5">of nucleic acid-templated</tspan><tspan x="4286" y="1172.5">transcription</tspan></text></g>
<g id="n_prnatt" class="n"><rect x="4397" y="1129" width="171" height="49"/><text><tspan x="4482.5" y="1143">positive regulation</tspan><tspan x="4482.5" y="1158">of nucleic acid-templated</tspan><tspan x="4482.5" y="1173">transcription</tspan></text></g>
<g id="n_rdtt" class="n"><rect x="4644" y="1129" width="106" height="49"/><text><tspan x="4697" y="1143">regulation of</tspan><tspan x="4697" y="1158">DNA-templated</tspan><tspan x="4697" y="1173">transcription</tspan></text></g>
<g id="n_trp2" class="n"><rect x="4832" y="1129" width="134" height="49"/><text><tspan x="4899" y="1143">transcription</tspan><tspan x="4899" y="1158">by RNA polymerase</tspan><tspan x="4899" y="1173">II</tspan></text></g>
<g id="n_nrdtt" class="n"><rect x="4473" y="1234" width="134" height="49"/><text><tspan x="4540" y="1248">negative regulation</tspan><tspan x="4540" y="1263">of DNA-templated</tspan><tspan x="4540" y="1278">transcription</tspan></text></g>
<g id="n_prdtt" class="n"><rect x="4630" y="1234" width="128" height="49"/><text><tspan x="4694" y="1248">positive regulation</tspan><tspan x="4694" y="1263">of DNA-templated</tspan><tspan x="4694" y="1278">transcription</tspan></text></g>
<g id="n_rtrp2" class="n"><rect x="4834" y="1226" width="134" height="64"/><text><tspan x="4901" y="1240">regulation of</tspan><tspan x="4901" y="1255">transcription</tspan><tspan x="4901" y="1270">by RNA polymerase</tspan><tspan x="4901" y="1285">II</tspan></text></g>
<g id="n_nrtrp2" class="n hl"><rect x="4702" y="1338" width="134" height="65"/><text><tspan x="4769" y="1352.5">negative regulation</tspan><tspan x="4769" y="1367.5">of transcription</tspan><tspan x="4769" y="1382.5">by RNA polymerase</tspan><tspan x="4769" y="1397.5">II</tspan></text></g>
<g id="n_prtrp2" class="n hl"><rect x="4861" y="1338" width="134" height="65"/><text><tspan x="4928" y="1352.5">positive regulation</tspan><tspan x="4928" y="1367.5">of transcription</tspan><tspan x="4928" y="1382.5">by RNA polymerase</tspan><tspan x="4928" y="1397.5">II</tspan></text></g>
</svg>
